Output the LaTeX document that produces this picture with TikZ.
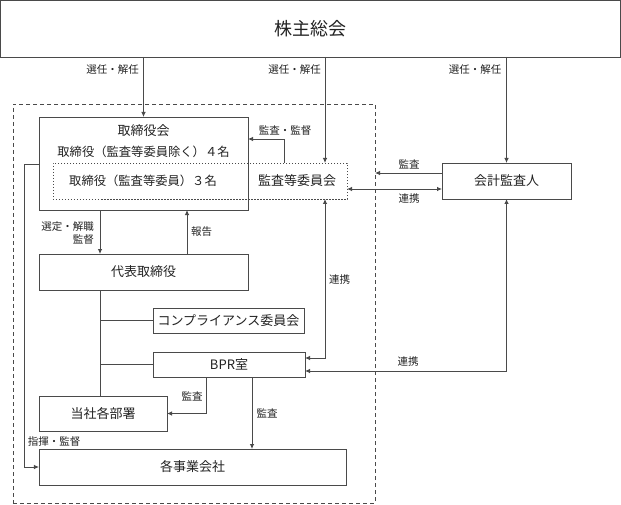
\documentclass[tikz,border=0pt]{standalone}
\usepackage{fontspec}
\setmainfont{Noto Sans CJK JP}
\usetikzlibrary{arrows.meta,calc}
\definecolor{linec}{HTML}{4A4A4A}
\definecolor{txtc}{HTML}{222222}
\begin{document}
\begin{tikzpicture}[x=1bp,y=-1bp,
  box/.style={draw=linec, line width=0.8bp, inner sep=0pt, outer sep=0pt, text=txtc, font=\fontsize{13bp}{15bp}\selectfont},
  txt/.style={inner sep=0pt, text=txtc, font=\fontsize{13bp}{15bp}\selectfont},
  lbl/.style={inner sep=0pt, text=txtc, font=\fontsize{10.5bp}{12.5bp}\selectfont},
  ln/.style={draw=linec, line width=0.8bp},
  arr/.style={draw=linec, line width=0.8bp, -{Latex[length=5bp,width=4.5bp]}},
  arrb/.style={draw=linec, line width=0.8bp, {Latex[length=5bp,width=4.5bp]}-{Latex[length=5bp,width=4.5bp]}},
  dashbox/.style={draw=linec, line width=0.8bp, dash pattern=on 4bp off 3bp},
  dotbox/.style={draw=linec, line width=0.8bp, dash pattern=on 1.5bp off 1.5bp}]
\useasboundingbox (0,0) rectangle (621,505);

% outer dashed frame
\node[dashbox, inner sep=0pt, outer sep=0pt, minimum width=362bp, minimum height=399bp] (frame) at (194,303.5) {};

% boxes
\node[box, minimum width=620bp, minimum height=56.5bp, font=\fontsize{18bp}{20bp}\selectfont] (gm) at (310.5,28.75) {株主総会};
\node[box, minimum width=209bp, minimum height=93bp] (tb) at (143.5,163.5) {};
\node[dotbox, inner sep=0pt, outer sep=0pt, minimum width=294bp, minimum height=36bp] (inner) at (200,181) {};
\node[txt] (tbt1) at (143.5,131) {取締役会};
\node[txt, font=\fontsize{12.3bp}{14bp}\selectfont] (tbt2) at (143.5,152) {取締役（監査等委員除く）４名};
\node[txt, font=\fontsize{12.3bp}{14bp}\selectfont] (tbt3) at (143,181) {取締役（監査等委員）３名};
\node[txt] (kiin) at (297,181) {監査等委員会};
\node[box, minimum width=209bp, minimum height=36bp] (dai) at (143.5,272) {代表取締役};
\node[box, minimum width=151bp, minimum height=25bp] (comp) at (228.5,320.5) {コンプライアンス委員会};
\node[box, minimum width=152bp, minimum height=25bp] (bpr) at (229,364.5) {BPR室};
\node[box, minimum width=128bp, minimum height=35bp] (bu) at (103,413.5) {当社各部署};
\node[box, minimum width=307bp, minimum height=36bp] (kaku) at (192.5,467) {各事業会社};
\node[box, minimum width=129bp, minimum height=36bp] (kai) at (506.5,181) {会計監査人};

% helper columns / rows
\coordinate (cA) at (325,0);
\coordinate (cB) at (284,0);
\coordinate (cL) at (24,0);
\coordinate (cD) at (100,0);
\coordinate (cR) at (187,0);
\coordinate (cK) at (506.5,0);
\coordinate (cP) at (206,0);
\coordinate (cQ) at (252,0);

% from general meeting
\draw[arr] (gm.south -| tb.north) -- (tb.north);
\draw[arr] (gm.south -| cA) -- (inner.north -| cA);
\draw[arr] (gm.south -| kai.north) -- (kai.north);
\node[lbl, anchor=east] (l1) at (139,70) {選任・解任};
\node[lbl, anchor=east] (l2) at (321,70) {選任・解任};
\node[lbl, anchor=east] (l3) at (501.5,70) {選任・解任};

% audit committee -> board
\draw[arr] (inner.north -| cB) |- (tb.east |- 0,139);
\node[lbl] (l4) at (285,131) {監査・監督};

% accounting auditor
\draw[arr] (kai.west |- 0,173) -- (frame.east |- 0,173);
\node[lbl] (l5) at (409,164) {監査};
\draw[arrb] (inner.east |- 0,189) -- (kai.west |- 0,189);
\node[lbl] (l6) at (409,199) {連携};
\draw[arrb] (kai.south) |- (bpr.east |- 0,371);
\node[lbl] (l7) at (408,362) {連携};

% audit committee <-> BPR
\draw[arrb] (inner.south -| cA) |- (bpr.east |- 0,358);
\node[lbl, anchor=west] (l8) at (329,280) {連携};

% board <-> representative
\draw[arr] (tb.south -| cD) -- (dai.north -| cD);
\node[lbl, anchor=east, align=right] (l9) at (94,233) {選定・解職\\監督};
\draw[arr] (dai.north -| cR) -- (tb.south -| cR);
\node[lbl, anchor=west] (l10) at (191,232) {報告};

% representative tree
\draw[ln] (dai.south -| cD) -- (bu.north -| cD);
\draw[ln] (comp.west -| cD) -- (comp.west);
\draw[ln] (bpr.west -| cD) -- (bpr.west);

% BPR audits
\draw[arr] (bpr.south -| cP) |- (bu.east);
\node[lbl] (l11) at (192,396) {監査};
\draw[arr] (bpr.south -| cQ) -- (kaku.north -| cQ);
\node[lbl] (l12) at (267,413) {監査};

% board -> subsidiaries
\draw[arr] (tb.west |- 0,164) -| (cL |- kaku.west) -- (kaku.west);
\node[lbl] (l13) at (54,442) {指揮・監督};
\end{tikzpicture}
\end{document}
